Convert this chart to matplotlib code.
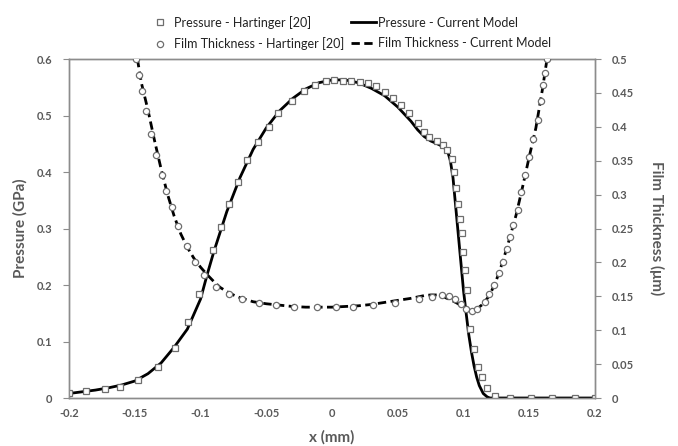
import matplotlib
matplotlib.use("Agg")
import matplotlib.pyplot as plt

# ---- Data ----
# Pressure - Hartinger [20] (squares)
p_exp_x = [-0.2, -0.1871, -0.1726, -0.1612, -0.1475, -0.1323, -0.1194, -0.1093, -0.1009,
           -0.0903, -0.0846, -0.0783, -0.0715, -0.0644, -0.0560, -0.0481, -0.0411, -0.0306,
           -0.0211, -0.0127, -0.0046, 0.0015, 0.0081, 0.0142, 0.0213, 0.0276, 0.0335, 0.0403,
           0.0466, 0.0525, 0.0588, 0.0656, 0.0700, 0.0740, 0.0801, 0.0846, 0.0877, 0.0910,
           0.0930, 0.0943, 0.0960, 0.0973, 0.0985, 0.0998, 0.1011, 0.1024, 0.1049, 0.1076,
           0.1110, 0.1137, 0.1175, 0.1240, 0.1354, 0.1513, 0.1673, 0.1848, 0.2]
p_exp_y = [0.0088, 0.0124, 0.0159, 0.0195, 0.0319, 0.0549, 0.0885, 0.1345, 0.1841,
           0.2619, 0.3021, 0.3434, 0.3818, 0.4207, 0.4536, 0.4802, 0.5039, 0.5262,
           0.5439, 0.5545, 0.5605, 0.5628, 0.5616, 0.5616, 0.5593, 0.5570, 0.5522, 0.5416,
           0.5315, 0.5186, 0.5050, 0.4873, 0.4713, 0.4620, 0.4543, 0.4473, 0.4389, 0.4225,
           0.4000, 0.3712, 0.3425, 0.3177, 0.2920, 0.2584, 0.2265, 0.1920, 0.1221, 0.0876,
           0.0554, 0.0377, 0.0177, 0.0035, 0.0, 0.0, 0.0, 0.0, 0.0]

# Pressure - Current Model (solid line)
p_mod_x = [-0.2, -0.19, -0.18, -0.17, -0.16, -0.15, -0.14, -0.13, -0.12, -0.11, -0.1, -0.095,
           -0.09, -0.08, -0.07, -0.06, -0.05, -0.04, -0.03, -0.02, -0.01, 0.0, 0.01, 0.02,
           0.03, 0.04, 0.05, 0.06, 0.065, 0.07, 0.075, 0.08, 0.085, 0.088, 0.09, 0.092, 0.094,
           0.096, 0.098, 0.1, 0.102, 0.104, 0.106, 0.108, 0.11, 0.112, 0.115, 0.118, 0.12,
           0.13, 0.2]
p_mod_y = [0.008, 0.011, 0.014, 0.018, 0.023, 0.030, 0.043, 0.062, 0.090, 0.122, 0.175, 0.218,
           0.258, 0.330, 0.390, 0.440, 0.478, 0.508, 0.530, 0.547, 0.558, 0.563, 0.563, 0.558,
           0.548, 0.535, 0.515, 0.490, 0.475, 0.463, 0.455, 0.450, 0.444, 0.436, 0.420, 0.390,
           0.340, 0.290, 0.240, 0.190, 0.150, 0.112, 0.082, 0.057, 0.037, 0.022, 0.008, 0.002,
           0.0, 0.0, 0.0]

# Film Thickness - Hartinger [20] (circles)
h_exp_x = [-0.1493, -0.1468, -0.1447, -0.1412, -0.1379, -0.1338, -0.1295, -0.1262, -0.1219,
           -0.1169, -0.1106, -0.1042, -0.0973, -0.0882, -0.0781, -0.0684, -0.0555, -0.0426,
           -0.0289, -0.0112, 0.0030, 0.0162, 0.0309, 0.0481, 0.0658, 0.0758, 0.0837, 0.0890,
           0.0935, 0.0981, 0.1019, 0.1061, 0.1106, 0.1163, 0.1196, 0.1234, 0.1270, 0.1298,
           0.1328, 0.1354, 0.1379, 0.1412, 0.1437, 0.1468, 0.1500, 0.1531, 0.1564, 0.1587,
           0.1607, 0.1622, 0.1633]
h_exp_y = [0.500, 0.477, 0.453, 0.423, 0.390, 0.359, 0.329, 0.305, 0.281,
           0.253, 0.224, 0.200, 0.181, 0.164, 0.153, 0.146, 0.1406, 0.1376,
           0.1347, 0.1337, 0.1337, 0.1347, 0.1367, 0.1406, 0.146, 0.1494, 0.152, 0.150,
           0.146, 0.139, 0.131, 0.129, 0.132, 0.142, 0.153, 0.167, 0.185, 0.201,
           0.220, 0.238, 0.255, 0.278, 0.304, 0.329, 0.356, 0.382, 0.410, 0.438,
           0.462, 0.480, 0.500]

# Film Thickness - Current Model (dashed line)
h_mod_x = [-0.148, -0.145, -0.14, -0.135, -0.13, -0.125, -0.12, -0.115, -0.11, -0.105, -0.1,
           -0.095, -0.09, -0.085, -0.08, -0.075, -0.07, -0.06, -0.05, -0.04, -0.03, -0.02,
           -0.01, 0.0, 0.01, 0.02, 0.03, 0.04, 0.05, 0.06, 0.07, 0.075, 0.08, 0.085, 0.09,
           0.095, 0.1, 0.103, 0.106, 0.11, 0.115, 0.12, 0.125, 0.13, 0.135, 0.14, 0.145,
           0.15, 0.155, 0.16, 0.1635]
h_mod_y = [0.500, 0.465, 0.425, 0.380, 0.338, 0.300, 0.268, 0.242, 0.222, 0.206, 0.193,
           0.182, 0.172, 0.163, 0.157, 0.152, 0.148, 0.142, 0.139, 0.137, 0.135, 0.134,
           0.134, 0.134, 0.135, 0.136, 0.138, 0.141, 0.144, 0.147, 0.151, 0.152, 0.152,
           0.149, 0.145, 0.140, 0.134, 0.130, 0.128, 0.131, 0.139, 0.152, 0.174, 0.202,
           0.235, 0.270, 0.312, 0.356, 0.398, 0.455, 0.500]

x_ticks = [-0.2, -0.15, -0.1, -0.05, 0, 0.05, 0.1, 0.15, 0.2]
x_tick_labels = ["-0.2", "-0.15", "-0.1", "-0.05", "0", "0.05", "0.1", "0.15", "0.2"]
p_ticks = [0, 0.1, 0.2, 0.3, 0.4, 0.5, 0.6]
p_tick_labels = ["0", "0.1", "0.2", "0.3", "0.4", "0.5", "0.6"]
h_ticks = [0, 0.05, 0.1, 0.15, 0.2, 0.25, 0.3, 0.35, 0.4, 0.45, 0.5]
h_tick_labels = ["0", "0.05", "0.1", "0.15", "0.2", "0.25", "0.3", "0.35", "0.4", "0.45", "0.5"]

# ---- Style ----
plt.rcParams['font.family'] = ['Lato', 'DejaVu Sans']
TXT = '#595959'
SPINE = '#8c8c8c'
MK = '#6e6e6e'

fig = plt.figure(figsize=(6.78, 4.46), dpi=100)
ax = fig.add_axes([0.1018, 0.1076, 0.7758, 0.7601])
ax2 = ax.twinx()

l_pm, = ax.plot(p_mod_x, p_mod_y, color='black', lw=2.0, zorder=3)
l_pe, = ax.plot(p_exp_x, p_exp_y, ls='none', marker='s', ms=4, mfc='white',
                mec=MK, mew=0.9, zorder=4)
l_hm, = ax2.plot(h_mod_x, h_mod_y, color='black', lw=2.0, ls=(0, (3.0, 1.6)), zorder=3)
l_he, = ax2.plot(h_exp_x, h_exp_y, ls='none', marker='o', ms=4.5, mfc='white',
                 mec=MK, mew=0.9, zorder=4)

ax.set_xlim(-0.2, 0.2)
ax.set_ylim(0, 0.6)
ax2.set_ylim(0, 0.5)

ax.set_xticks(x_ticks)
ax.set_xticklabels(x_tick_labels)
ax.set_yticks(p_ticks)
ax.set_yticklabels(p_tick_labels)
ax2.set_yticks(h_ticks)
ax2.set_yticklabels(h_tick_labels)

for a in (ax, ax2):
    for s in a.spines.values():
        s.set_color(SPINE)
        s.set_linewidth(1.0)
ax.tick_params(axis='x', length=0, pad=7, labelsize=8, labelcolor=TXT)
ax.tick_params(axis='y', length=4, color=SPINE, pad=8, labelsize=8, labelcolor=TXT)
ax2.tick_params(axis='y', length=4, color=SPINE, pad=8, labelsize=8, labelcolor=TXT)
for lab in ax.get_xticklabels() + ax.get_yticklabels() + ax2.get_yticklabels():
    lab.set_fontweight('bold')

ax.set_xlabel('x (mm)', fontsize=11, fontweight='bold', color=TXT, va='center')
ax.xaxis.set_label_coords(0.5, -0.115)
ax.set_ylabel('Pressure (GPa)', fontsize=11, fontweight='bold', color=TXT, va='center')
ax.yaxis.set_label_coords(-0.092, 0.5)
ax2.set_ylabel('Film Thickness (μm)', fontsize=11, fontweight='bold', color=TXT,
               rotation=270, va='center')
ax2.yaxis.set_label_coords(1.117, 0.5)

handles = [l_pe, l_he, l_pm, l_hm]
labels = ['Pressure - Hartinger [20]', 'Film Thickness - Hartinger [20]',
          'Pressure - Current Model', 'Film Thickness - Current Model']
leg = fig.legend(handles, labels, ncol=2, loc='upper center', bbox_to_anchor=(0.515, 0.99),
                 frameon=False, fontsize=9, handlelength=2.0, handletextpad=0.15,
                 columnspacing=0.5, labelspacing=0.7, labelcolor='#222222')

fig.savefig('out.png', dpi=100)
